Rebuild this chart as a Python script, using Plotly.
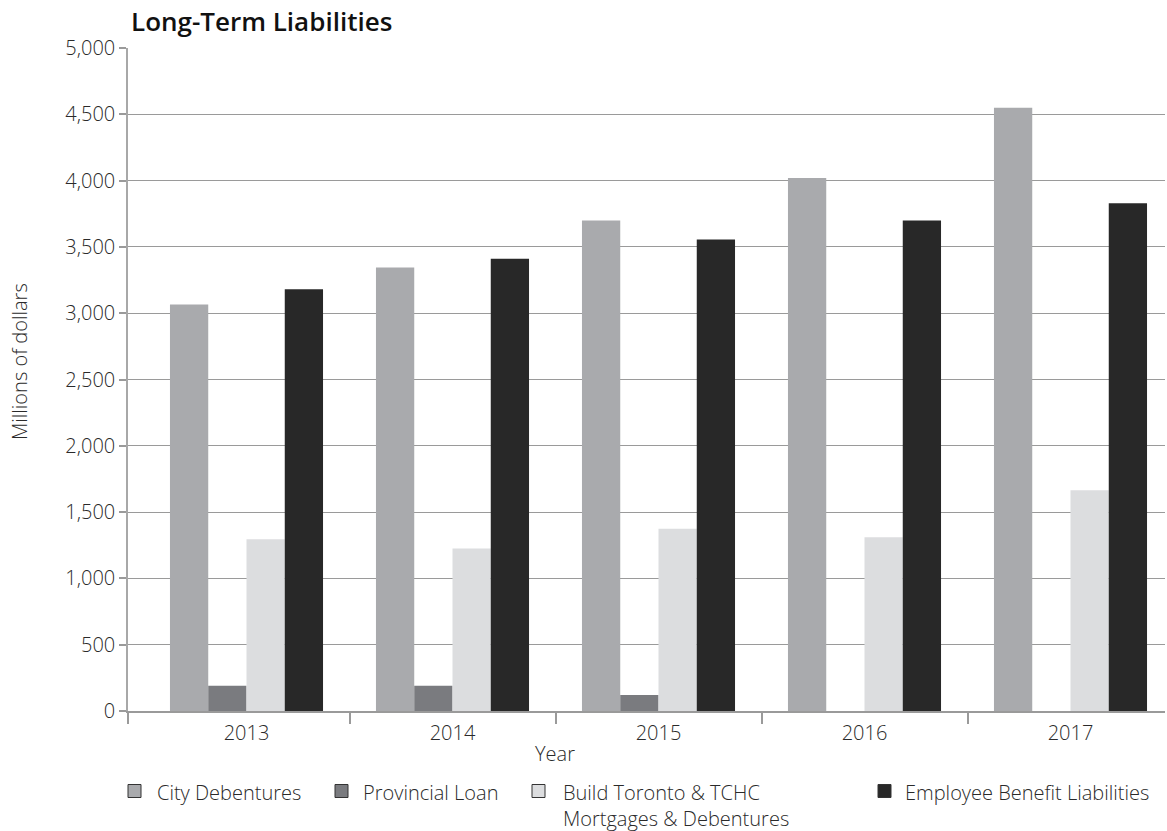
import plotly.graph_objects as go

# Long-term liabilities, millions of dollars
years = ["2013", "2014", "2015", "2016", "2017"]
city_debentures = [3065, 3345, 3700, 4020, 4550]
provincial_loan = [190, 190, 120, 0, 0]
build_toronto_tchc = [1295, 1225, 1375, 1310, 1665]
employee_benefits = [3180, 3410, 3555, 3700, 3830]

series_names = [
    "City Debentures",
    "Provincial Loan",
    "Build Toronto & TCHC<br>Mortgages & Debentures",
    "Employee Benefit Liabilities",
]
series_values = [city_debentures, provincial_loan, build_toronto_tchc, employee_benefits]
series_colors = ["#a9aaad", "#7a7b7f", "#dcdddf", "#282828"]

y_ticks = [0, 500, 1000, 1500, 2000, 2500, 3000, 3500, 4000, 4500, 5000]

W, H = 1167, 831
ML, MR, MT, MB = 128, 2, 48, 120
PW = W - ML - MR
PH = H - MT - MB

FONT = "Open Sans"
TXT = "#2a2a2a"
FS = 20


def px_x(px):
    return (px - ML) / PW


def px_y(py):
    return (H - MB - py) / PH


x_pos = list(range(len(years)))
# category spacing of 206 px, first group centred at 246.5 px
x_lo = (ML - 246.5) / 206.0
x_hi = (ML + PW - 246.5) / 206.0

fig = go.Figure()
for name, vals, col in zip(series_names, series_values, series_colors):
    fig.add_trace(go.Bar(
        x=x_pos, y=vals, name=name, marker=dict(color=col, line=dict(width=0)),
        hoverinfo="skip", showlegend=False,
    ))

fig.update_layout(
    width=W, height=H,
    margin=dict(l=ML, r=MR, t=MT, b=MB),
    paper_bgcolor="white", plot_bgcolor="white",
    barmode="group", bargap=0.257, bargroupgap=0,
    font=dict(family=FONT, color=TXT, size=FS, weight=300),
    xaxis=dict(
        range=[x_lo, x_hi], tickmode="array", tickvals=x_pos, ticktext=years,
        ticks="outside", ticklen=3, tickcolor="rgba(0,0,0,0)",
        showline=True, linecolor="#9a9a9a", linewidth=1.5,
        showgrid=False, zeroline=False,
        tickfont=dict(family=FONT, size=FS, color=TXT, weight=300),
        minor=dict(tickmode="array", tickvals=[x_lo, 0.5, 1.5, 2.5, 3.5],
                   ticks="outside", ticklen=11, tickcolor="#9a9a9a", tickwidth=1.5,
                   showgrid=False),
    ),
    yaxis=dict(
        range=[0, 5000], tickmode="array", tickvals=y_ticks,
        ticktext=[f"{v:,}" for v in y_ticks],
        ticks="outside", ticklen=7, tickcolor="#9a9a9a", tickwidth=1.5,
        showline=True, linecolor="#a8a8a8", linewidth=1.5,
        showgrid=True, gridcolor="#9a9a9a", gridwidth=1.4, zeroline=False,
        tickfont=dict(family=FONT, size=FS, color=TXT, weight=300),
    ),
)

annotations = [
    dict(text="Long-Term Liabilities", x=px_x(129), y=px_y(21), xref="paper", yref="paper",
         xanchor="left", yanchor="middle", showarrow=False,
         font=dict(family=FONT, size=26, color="#111", weight=600)),
    dict(text="Millions of dollars", x=px_x(19), y=px_y(362), xref="paper", yref="paper",
         xanchor="center", yanchor="middle", textangle=-90, showarrow=False,
         font=dict(family=FONT, size=FS, color=TXT, weight=300)),
    dict(text="Year", x=px_x(555), y=px_y(753), xref="paper", yref="paper",
         xanchor="center", yanchor="middle", showarrow=False,
         font=dict(family=FONT, size=FS, color=TXT, weight=300)),
]

# custom legend row below the axis
legend_square_x = [128, 335, 532, 878]
legend_text_x = [155, 361, 561, 903]
legend_y = 791
shapes = []
for name, col, sx, tx in zip(series_names, series_colors, legend_square_x, legend_text_x):
    shapes.append(dict(
        type="rect", xref="paper", yref="paper",
        x0=px_x(sx), x1=px_x(sx + 13), y0=px_y(legend_y + 6.5), y1=px_y(legend_y - 6.5),
        fillcolor=col, line=dict(color="#333333", width=1),
    ))
    annotations.append(dict(
        text=name, x=px_x(tx), y=px_y(legend_y - 14), xref="paper", yref="paper",
        xanchor="left", yanchor="top", align="left", showarrow=False,
        font=dict(family=FONT, size=FS, color=TXT, weight=300),
    ))

fig.update_layout(annotations=annotations, shapes=shapes)

fig.write_html("out.html")
